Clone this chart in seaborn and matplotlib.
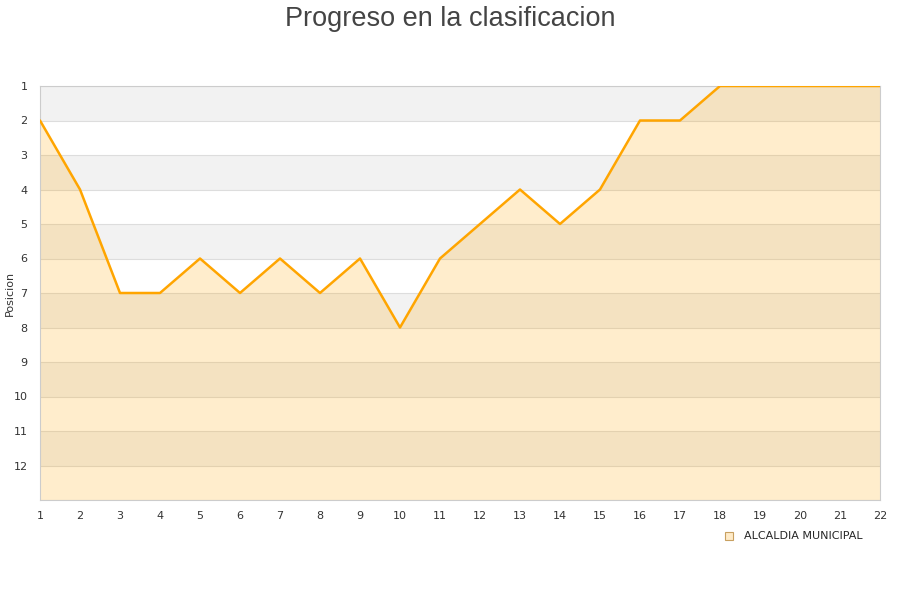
import matplotlib
matplotlib.use("Agg")
import matplotlib.pyplot as plt
import seaborn as sns
import pandas as pd
from matplotlib.lines import Line2D

# Jornadas y posicion
jornadas = list(range(1, 23))
posicion = [2, 4, 7, 7, 6, 7, 6, 7, 6, 8, 6, 5, 4, 5, 4, 2, 2, 1, 1, 1, 1, 1]
equipo = "ALCALDIA MUNICIPAL"
y_ticks = list(range(1, 13))

df = pd.DataFrame({"Jornada": jornadas, "Posicion": posicion})

sns.set_style("white")
fig = plt.figure(figsize=(9, 6), dpi=100)
ax = fig.add_axes([40 / 900, 100 / 600, 840 / 900, 414 / 600])

# alternating bands
for i in range(1, 13, 2):
    ax.axhspan(i, i + 1, color="#f2f2f2", zorder=0, lw=0)
for i in range(1, 14):
    ax.axhline(i, color="#dddddd", lw=0.8, zorder=1)

ax.fill_between(df["Jornada"], df["Posicion"], 13, color="#ffa500", alpha=0.2, lw=0, zorder=2)
sns.lineplot(data=df, x="Jornada", y="Posicion", color="#ffa500", lw=1.8, ax=ax, zorder=3)

ax.set_xlim(1, 22)
ax.set_ylim(13, 1)
ax.set_xticks(jornadas)
ax.set_yticks(y_ticks)
ax.tick_params(axis="both", length=0, labelsize=8, labelcolor="#333333", pad=8)
ax.tick_params(axis="y", pad=9)
ax.set_xlabel("")
ax.set_ylabel("Posicion", fontsize=8, color="#333333")
ax.yaxis.set_label_coords(-25 / 840, 0.5)
for side in ["left", "bottom", "right", "top"]:
    ax.spines[side].set_color("#cccccc")
    ax.spines[side].set_linewidth(0.8)

fig.suptitle("Progreso en la clasificacion", fontsize=19.5, color="#444444",
             family="Liberation Sans", y=0.99)

handle = Line2D([], [], marker="s", linestyle="none", markersize=6,
                markerfacecolor="#ffebc8", markeredgecolor="#c8a060", markeredgewidth=0.8)
fig.legend([handle], [equipo], loc="center", bbox_to_anchor=(0.878, 0.106),
           frameon=False, fontsize=8, handletextpad=0.3)

fig.savefig("out.png", dpi=100)
